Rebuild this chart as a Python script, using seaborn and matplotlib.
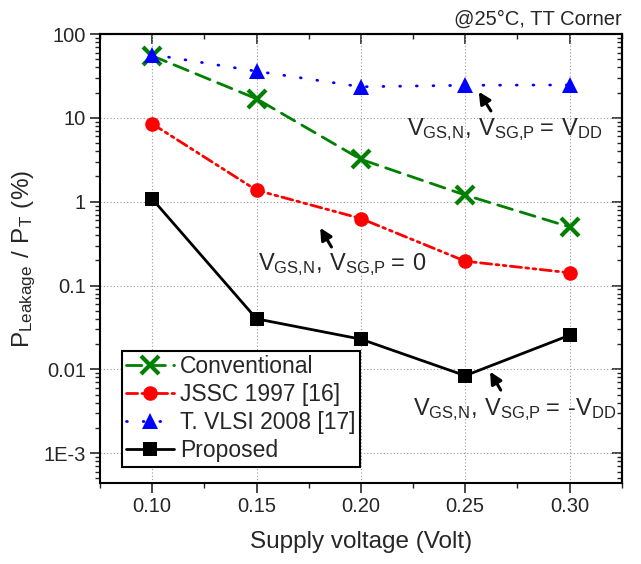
import numpy as np
import pandas as pd
import matplotlib
matplotlib.use("Agg")
import matplotlib.pyplot as plt
from matplotlib.ticker import FixedLocator, LogLocator, NullFormatter
import seaborn as sns

# data
voltage = [0.10, 0.15, 0.20, 0.25, 0.30]
conventional = [55, 16.9, 3.2, 1.2, 0.50]
jssc_1997 = [8.5, 1.37, 0.63, 0.195, 0.142]
tvlsi_2008 = [57, 36, 23.5, 24.5, 24.7]
proposed = [1.08, 0.040, 0.0229, 0.0084, 0.0255]

series_names = ["Conventional", "JSSC 1997 [16]", "T. VLSI 2008 [17]", "Proposed"]
series_values = [conventional, jssc_1997, tvlsi_2008, proposed]

y_ticks = [1e-3, 1e-2, 1e-1, 1, 10, 100]
y_tick_labels = ["1E-3", "0.01", "0.1", "1", "10", "100"]
x_ticks = [0.10, 0.15, 0.20, 0.25, 0.30]
x_tick_labels = ["0.10", "0.15", "0.20", "0.25", "0.30"]
x_minor = [0.075, 0.125, 0.175, 0.225, 0.275, 0.325]

sns.set_style("ticks")
plt.rcParams['font.family'] = ['Liberation Sans', 'DejaVu Sans']
plt.rcParams['mathtext.default'] = 'regular'

df = pd.DataFrame({
    "voltage": np.tile(voltage, len(series_names)),
    "ratio": np.concatenate(series_values),
    "series": np.repeat(series_names, len(voltage)),
})

styles = {
    "Conventional": dict(color="#008000", marker="x", ms=13, mew=3.0, ls=(0, (5.5, 3))),
    "JSSC 1997 [16]": dict(color="#ff0000", marker="o", ms=10.5, mew=0, ls=(0, (4, 1.6, 1, 1.6, 1, 1.6))),
    "T. VLSI 2008 [17]": dict(color="#0000ff", marker="^", ms=12, mew=0, ls=(0, (0.3, 5.7))),
    "Proposed": dict(color="black", marker="s", ms=9.5, mew=0, ls="-"),
}

fig = plt.figure(figsize=(6.41, 5.64), dpi=100)
ax = fig.add_axes([0.156, 0.1436, 0.814, 0.796])

for name in series_names:
    st = styles[name]
    sub = df[df["series"] == name]
    sns.lineplot(data=sub, x="voltage", y="ratio", ax=ax, color=st["color"],
                 marker=st["marker"], markersize=st["ms"], markeredgewidth=st["mew"],
                 markeredgecolor=st["color"], linestyle=st["ls"], linewidth=2.0,
                 dash_capstyle="round", label=name, zorder=3)

ax.set_yscale("log")
ax.set_xlim(0.075, 0.325)
ax.set_ylim(4.4e-4, 100)

ax.set_xticks(x_ticks)
ax.set_xticklabels(x_tick_labels)
ax.xaxis.set_minor_locator(FixedLocator(x_minor))
ax.set_yticks(y_ticks)
ax.set_yticklabels(y_tick_labels)
ax.yaxis.set_minor_locator(LogLocator(base=10, subs=np.arange(2, 10), numticks=20))
ax.yaxis.set_minor_formatter(NullFormatter())

ax.tick_params(which="major", direction="out", length=7, width=1.2, labelsize=14.5, pad=3)
ax.tick_params(which="minor", direction="out", length=3.8, width=1.0)

# mirrored ticks on top and right pointing inward
top = ax.secondary_xaxis("top")
top.set_xticks(x_ticks)
top.xaxis.set_minor_locator(FixedLocator(x_minor))
top.tick_params(which="major", direction="in", length=7, width=1.2, labeltop=False)
top.tick_params(which="minor", direction="in", length=3.8, width=1.0)
right = ax.secondary_yaxis("right")
right.set_yticks(y_ticks)
right.yaxis.set_minor_locator(LogLocator(base=10, subs=np.arange(2, 10), numticks=20))
right.yaxis.set_minor_formatter(NullFormatter())
right.tick_params(which="major", direction="in", length=7, width=1.2, labelright=False)
right.tick_params(which="minor", direction="in", length=3.8, width=1.0)

for sp in list(ax.spines.values()) + [top.spines["top"], right.spines["right"]]:
    sp.set_linewidth(1.5)
    sp.set_color("black")

ax.grid(which="major", color="#999999", linestyle=(0, (1, 2)), linewidth=0.8)

ax.set_xlabel("Supply voltage (Volt)", fontsize=17.5, labelpad=11)
ax.set_ylabel(r"$P_{Leakage}\ /\ P_T\ (\%)$", fontsize=17.5, labelpad=4)

ax.text(1.0, 1.012, "@25\u00b0C, TT Corner", transform=ax.transAxes,
        ha="right", va="bottom", fontsize=14.5)

ann_size = 17
ax.text(0.2221, 6.2, r"$V_{GS{,}N}{,}\ V_{SG{,}P}=\,V_{DD}$", fontsize=ann_size,
        va="baseline", ha="left")
ax.text(0.1505, 0.151, r"$V_{GS{,}N}{,}\ V_{SG{,}P}=\,0$", fontsize=ann_size,
        va="baseline", ha="left")
ax.text(0.2248, 0.00288, "$V_{GS{,}N}{,}\\ V_{SG{,}P}=\\,$\u2010$V_{DD}$", fontsize=ann_size,
        va="baseline", ha="left")

arrow_kw = dict(arrowstyle="-|>,head_length=0.7,head_width=0.35", color="black", lw=2.2,
                shrinkA=0, shrinkB=0)
ax.annotate("", xy=(0.2565, 20.5), xytext=(0.2623, 12.1), arrowprops=arrow_kw)
ax.annotate("", xy=(0.1805, 0.488), xytext=(0.1859, 0.288), arrowprops=arrow_kw)
ax.annotate("", xy=(0.2619, 0.00937), xytext=(0.267, 0.00565), arrowprops=arrow_kw)

leg = ax.legend(loc="lower left", bbox_to_anchor=(0.0416, 0.0356), borderaxespad=0,
                fontsize=16.5, frameon=True, fancybox=False, labelspacing=0.22,
                handlelength=2.1, handletextpad=0.25, borderpad=0.2)
leg.get_frame().set_edgecolor("black")
leg.get_frame().set_linewidth(1.5)
leg.get_frame().set_alpha(1)

fig.savefig("out.png", dpi=100)
